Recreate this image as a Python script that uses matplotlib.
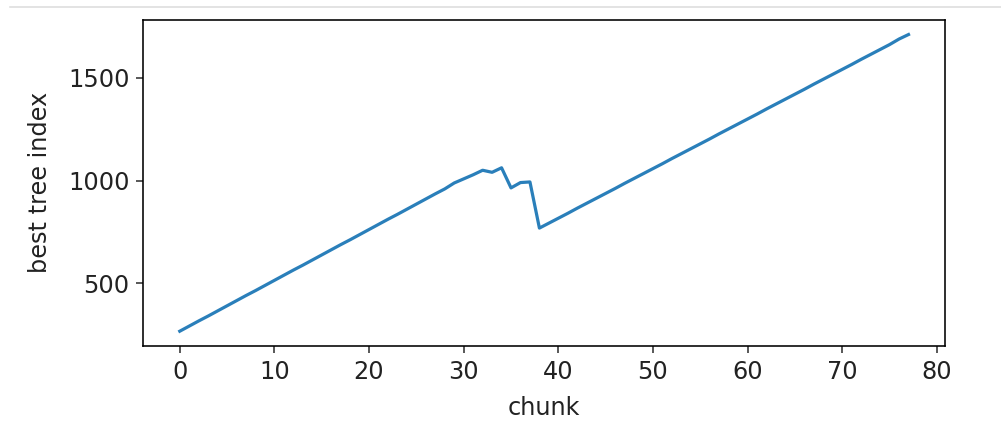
import matplotlib
matplotlib.use("Agg")
import matplotlib.pyplot as plt
from matplotlib.lines import Line2D

# best tree index per chunk
chunks = list(range(78))
best_tree_index = [
    265, 290, 315, 339, 364, 389, 414, 439, 463, 488,
    513, 538, 563, 587, 612, 637, 662, 687, 711, 736,
    761, 786, 811, 835, 860, 885, 910, 935, 959, 988,
    1008, 1028, 1050, 1040, 1062, 964, 990, 993, 768, 792,
    816, 840, 865, 889, 913, 937, 961, 986, 1010, 1034,
    1058, 1082, 1107, 1131, 1155, 1179, 1203, 1228, 1252, 1276,
    1300, 1324, 1349, 1373, 1397, 1421, 1445, 1470, 1494, 1518,
    1542, 1566, 1591, 1615, 1639, 1663, 1690, 1712,
]

plt.rcParams["font.size"] = 12

fig = plt.figure(figsize=(1001 / 144, 432 / 144), dpi=144)
ax = fig.add_axes([0.1432, 0.199, 0.8008, 0.7554])
ax.plot(chunks, best_tree_index, lw=1.6, color="#2a7fba")
ax.set_xlabel("chunk", labelpad=6)
ax.set_ylabel("best tree index", labelpad=8)
ax.set_yticks([500, 1000, 1500])
ax.tick_params(colors="#333333", labelcolor="#222222")
ax.xaxis.label.set_color("#222222")
ax.yaxis.label.set_color("#222222")

# thin grey separator at the top (notebook cell border)
fig.add_artist(Line2D([0.01, 1.0], [1 - 7 / 432, 1 - 7 / 432],
                      transform=fig.transFigure, color="#dddddd", lw=0.8))

fig.savefig("out.png", dpi=144)
